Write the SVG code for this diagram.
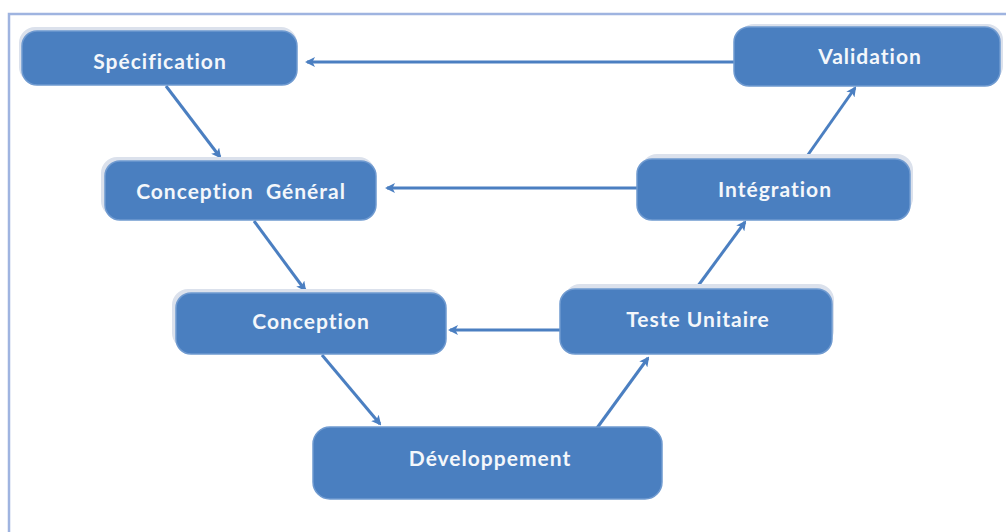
<svg xmlns="http://www.w3.org/2000/svg" width="1006" height="532" viewBox="0 0 1006 532">
<defs>
<style>
.sh{fill:#dbe1ec;}
.bx{fill:#4a7fc0;stroke:#6f9ad0;stroke-width:1.5;}
.t{font-family:Lato,"Open Sans",sans-serif;font-weight:bold;font-size:21px;letter-spacing:1px;font-variant-ligatures:none;fill:#f4f7fb;text-anchor:middle;}
.c{stroke:#4b7fc1;stroke-width:3;fill:none;marker-end:url(#ah);}
</style>
<marker id="ah" markerWidth="10" markerHeight="10" refX="8" refY="5" orient="auto" markerUnits="userSpaceOnUse" viewBox="0 0 10 10">
<path d="M0,0 L10,5 L0,10 L2.5,5 Z" fill="#4b7fc1"/>
</marker>
</defs>
<rect x="0" y="0" width="1006" height="532" fill="#ffffff"/>
<rect x="9" y="14" width="1010" height="530" fill="none" stroke="#9fb4e0" stroke-width="2.5"/>
<g id="connectors">
<line class="c" x1="734" y1="62" x2="307" y2="62"/>
<line class="c" x1="166" y1="86" x2="220" y2="157"/>
<line class="c" x1="637" y1="188" x2="387" y2="188"/>
<line class="c" x1="254" y1="221" x2="305" y2="290"/>
<line class="c" x1="560" y1="330" x2="450" y2="330"/>
<line class="c" x1="322" y1="355" x2="380" y2="424"/>
<line class="c" x1="597" y1="428" x2="648" y2="358"/>
<line class="c" x1="695" y1="290" x2="745" y2="222"/>
<line class="c" x1="805" y1="159" x2="855" y2="88"/>
</g>
<g id="specification">
<rect class="sh" x="19" y="27" width="278" height="56" rx="16"/>
<rect class="bx" x="22" y="31" width="275" height="54" rx="15"/>
<text class="t" x="160" y="69">Spécification</text>
</g>
<g id="validation">
<rect class="sh" x="738" y="24" width="265" height="58" rx="16"/>
<rect class="bx" x="734" y="27" width="266" height="59" rx="15"/>
<text class="t" x="870" y="64">Validation</text>
</g>
<g id="conception-general">
<rect class="sh" x="101" y="157" width="274" height="60" rx="16"/>
<rect class="bx" x="105" y="161" width="271" height="59" rx="15"/>
<text class="t" x="241" y="199" xml:space="preserve">Conception  Général</text>
</g>
<g id="integration">
<rect class="sh" x="641" y="154" width="272" height="60" rx="16"/>
<rect class="bx" x="637" y="159" width="273" height="61" rx="15"/>
<text class="t" x="775" y="197">Intégration</text>
</g>
<g id="conception">
<rect class="sh" x="172" y="289" width="272" height="60" rx="16"/>
<rect class="bx" x="176" y="293" width="270" height="61" rx="15"/>
<text class="t" x="311" y="329">Conception</text>
</g>
<g id="teste-unitaire">
<rect class="sh" x="564" y="284" width="270" height="62" rx="16"/>
<rect class="bx" x="560" y="289" width="272" height="65" rx="15"/>
<text class="t" x="698" y="327">Teste Unitaire</text>
</g>
<g id="developpement">
<rect class="bx" x="313" y="427" width="349" height="72" rx="17"/>
<text class="t" x="490" y="466">Développement</text>
</g>
</svg>
